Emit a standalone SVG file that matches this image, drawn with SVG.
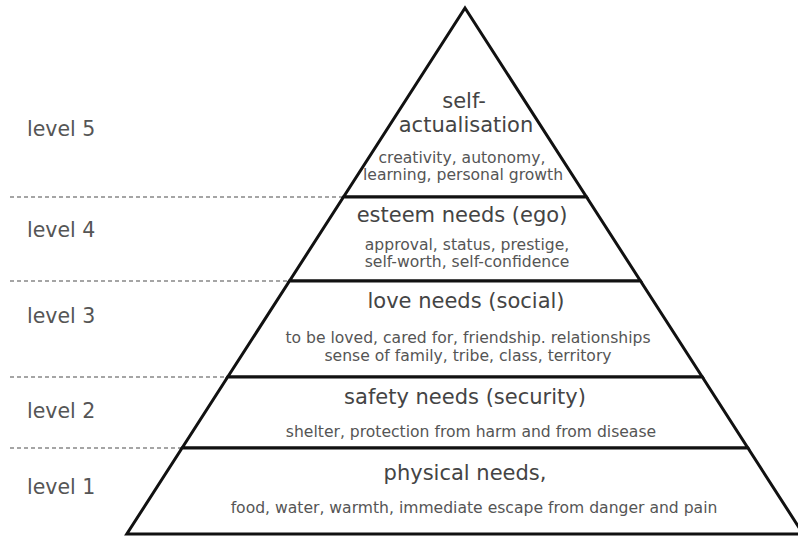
<svg xmlns="http://www.w3.org/2000/svg" width="798" height="537" viewBox="0 0 798 537">
<style>
.lvl{fill:#fff;stroke:#111;stroke-width:3;stroke-linejoin:miter}
.t{font-family:"DejaVu Sans",Verdana,sans-serif;font-size:21px;fill:#444;text-anchor:middle}
.s{font-family:"DejaVu Sans",Verdana,sans-serif;font-size:15.6px;fill:#555;text-anchor:middle}
.lab{font-family:"DejaVu Sans",Verdana,sans-serif;font-size:20.5px;fill:#555}
.dash{stroke:#888;stroke-width:1.5;stroke-dasharray:4 3;fill:none}
</style>
<rect width="798" height="537" fill="#fff"/>
<g id="connectors">
<line class="dash" x1="10" y1="197" x2="343" y2="197"/>
<line class="dash" x1="10" y1="281" x2="289" y2="281"/>
<line class="dash" x1="10" y1="377" x2="228" y2="377"/>
<line class="dash" x1="10" y1="448" x2="182" y2="448"/>
</g>
<g id="level5">
<polygon class="lvl" points="465,8 586.5,197 343.5,197"/>
<text class="t" x="464" y="108">self-</text>
<text class="t" x="466" y="132">actualisation</text>
<text class="s" x="462" y="163">creativity, autonomy,</text>
<text class="s" x="463" y="180">learning, personal growth</text>
<text class="lab" x="27" y="136">level 5</text>
</g>
<g id="level4">
<polygon class="lvl" points="343.5,197 586.5,197 640.5,281 289.5,281"/>
<text class="t" x="462" y="222">esteem needs (ego)</text>
<text class="s" x="467" y="250">approval, status, prestige,</text>
<text class="s" x="467" y="267">self-worth, self-confidence</text>
<text class="lab" x="27" y="237">level 4</text>
</g>
<g id="level3">
<polygon class="lvl" points="289.5,281 640.5,281 702.3,377 227.7,377"/>
<text class="t" x="466" y="308">love needs (social)</text>
<text class="s" x="468" y="343">to be loved, cared for, friendship. relationships</text>
<text class="s" x="468" y="361">sense of family, tribe, class, territory</text>
<text class="lab" x="27" y="323">level 3</text>
</g>
<g id="level2">
<polygon class="lvl" points="227.7,377 702.3,377 747.9,448 182.1,448"/>
<text class="t" x="465" y="404">safety needs (security)</text>
<text class="s" x="471" y="437">shelter, protection from harm and from disease</text>
<text class="lab" x="27" y="418">level 2</text>
</g>
<g id="level1">
<polygon class="lvl" points="182.1,448 747.9,448 803.2,534 126.8,534"/>
<text class="t" x="465" y="480">physical needs,</text>
<text class="s" x="474" y="513">food, water, warmth, immediate escape from danger and pain</text>
<text class="lab" x="27" y="494">level 1</text>
</g>
</svg>
